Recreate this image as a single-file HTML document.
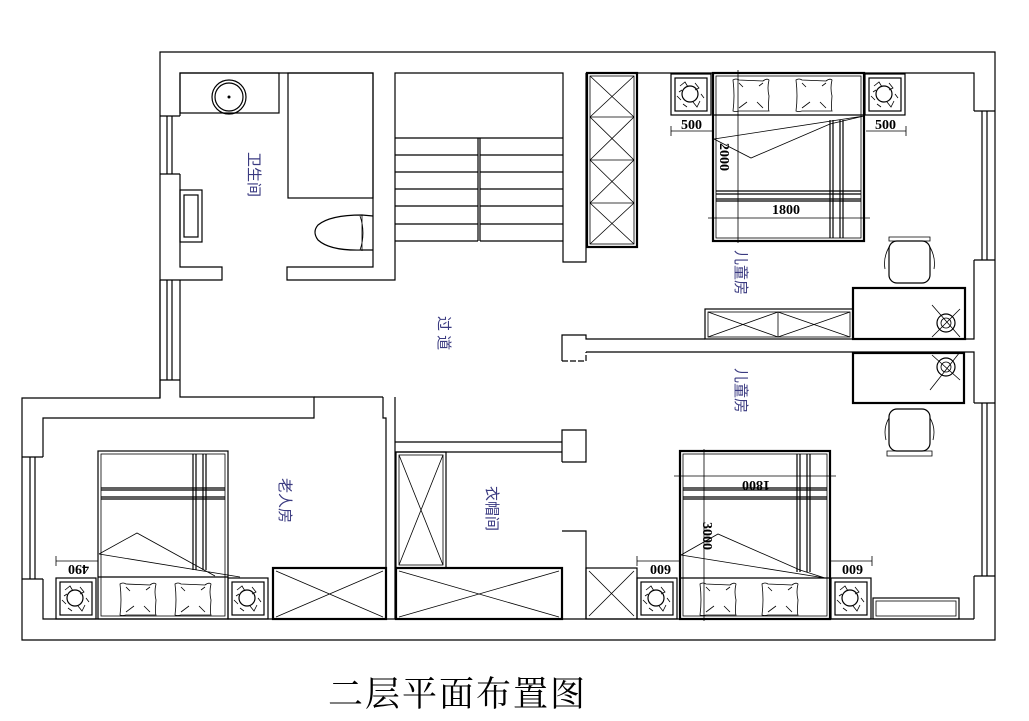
<!DOCTYPE html>
<html><head><meta charset="utf-8"><style>
html,body{margin:0;padding:0;background:#fff;width:1029px;height:721px;overflow:hidden}
svg{display:block}
.l{fill:none;stroke:#000;stroke-width:1.2}
.t{stroke:#000;stroke-width:2.2;fill:none}
.th{stroke:#000;stroke-width:0.8;fill:none}
.lab{font-family:"Liberation Sans","Noto Sans CJK SC",sans-serif;font-size:15px;fill:#3a3a80}
.dim{font-family:"Liberation Serif",serif;font-size:14px;font-weight:bold;fill:#000}
</style></head><body>
<svg width="1029" height="721" viewBox="0 0 1029 721" xmlns="http://www.w3.org/2000/svg">
<defs>
<g id="ns">
 <rect x="0" y="0" width="40" height="41" class="l"/>
 <rect x="4" y="4" width="32" height="33" class="l"/>
 <circle cx="19" cy="20" r="8" class="l"/>
 <path d="M9 12 L14 8 L17 13 M24 9 L28 14 L24 16 M10 26 L6 22 M22 28 L26 33 L29 27 M12 30 L16 33 M30 20 L33 24 M8 18 L11 16" class="th"/>
</g>
<g id="pil">
 <path d="M0 2 Q3 0 6 2 L30 3 Q34 0 36 2 Q34 10 36 18 Q35 31 36 33 L6 33 Q2 34 0 33 Q2 18 0 2Z" class="th"/>
 <path d="M6 30 L14 24 M30 30 L24 24 M6 5 L10 9 M30 5 L26 8" class="th"/>
</g>
</defs>

<path d="M160 52 H995 V640 H22 V398 H160 Z" class="l"/>
<path d="M160 116 H180 M160 174 H180 M167 116 V174 M172 116 V174" class="l"/>
<path d="M160 280 V380 M167 280 V380 M172 280 V380 M180 280 V380 M160 380 H180" class="l"/>
<path d="M180 174 V267 H222 V280 H160" class="l"/>
<path d="M180 116 V73 H373 V267 H287 V280 H395 V73 H563 V262 H586 V73" class="l"/>
<rect x="180" y="73" width="99" height="40" class="l"/>
<circle cx="229" cy="97" r="17" class="l" stroke-width="2"/>
<circle cx="229" cy="97" r="14" class="l"/>
<circle cx="229" cy="97" r="1.5" fill="#000"/>
<rect x="288" y="73" width="85" height="125" class="l"/>
<rect x="180" y="190" width="22" height="52" class="l"/>
<rect x="184" y="195" width="14" height="42" class="l"/>
<path d="M373 216 L362 215 Q330 215 318 225 Q312 232 318 240 Q330 251 362 250 L373 250" class="l"/>
<path d="M362 215 V251 M360 216 Q366 233 360 250" class="th"/>
<path d="M395 138 H563 M395 155 H478 M480 155 H563 M395 172 H478 M480 172 H563 M395 189 H478 M480 189 H563 M395 206 H478 M480 206 H563 M395 224 H478 M480 224 H563 M395 241 H478 M480 241 H563 M478 138 V241 M480 138 V241" class="l"/>
<rect x="587" y="73" width="50" height="174" class="t"/>
<rect x="590" y="76" width="44" height="168" class="th"/>
<path d="M590 117 H634 M590 160 H634 M590 203 H634 M590 76 L634 117 M634 76 L590 117 M590 117 L634 160 M634 117 L590 160 M590 160 L634 203 M634 160 L590 203 M590 203 L634 244 M634 203 L590 244" class="th"/>

<path d="M637 73 H974 V111 M974 260 V339 H853 M974 111 H995 M974 260 H995 M982 111 V260 M987 111 V260" class="l"/>
<path d="M562 361 V335 H586 V339 H705" class="l"/>
<path d="M562 361 H586 V352" class="l" stroke-dasharray="6 2"/>
<path d="M586 352 H974 V403" class="l"/>
<path d="M974 403 H995 M974 576 H995 M982 403 V576 M987 403 V576 M974 576 V619" class="l"/>
<rect x="713" y="73" width="151" height="168" class="t" stroke-width="1.6"/>
<rect x="716" y="76" width="145" height="162" class="th"/>
<path d="M713 115 H864" class="l"/>
<path d="M716 191 H861 M716 194 H861 M716 199 H861 M716 201 H861 M830 120 V238 M833 120 V238 M840 120 V238 M843 120 V238" class="l"/>
<path d="M738 70 V243 M708 218 H870" class="th"/>
<path d="M714 139 L864 116 M714 139 L751 158 L830 124 L864 116" class="th"/>
<use href="#pil" x="733" y="78"/><use href="#pil" x="796" y="78"/>
<use href="#ns" x="671" y="74"/><use href="#ns" x="865" y="74"/>
<path d="M671 131 H713 M866 131 H906 M671 126 V136 M906 126 V136" class="th"/>
<text class="dim" x="681" y="129">500</text><text class="dim" x="875" y="129">500</text>
<text class="dim" transform="translate(720,143) rotate(90)">2000</text>
<text class="dim" x="772" y="214">1800</text>
<path d="M889 237 H930 V241 H889 Z" class="th"/>
<rect x="889" y="241" width="41" height="42" rx="8" class="l"/>
<path d="M889 247 Q883 258 885 269 M930 247 Q936 258 934 269" class="th"/>
<rect x="853" y="288" width="112" height="51" class="t"/>
<circle cx="946" cy="323" r="9" class="l"/><circle cx="946" cy="323" r="5" class="th"/>
<path d="M932 305 L960 337 M960 309 L932 337" class="th"/>
<rect x="705" y="309" width="148" height="30" class="l"/>
<rect x="708" y="312" width="142" height="25" class="th"/>
<path d="M778 312 V337 M708 312 L778 337 M778 312 L708 337 M778 312 L850 337 M850 312 L778 337" class="th"/>

<rect x="853" y="353" width="111" height="50" class="t"/>
<circle cx="946" cy="367" r="9" class="l"/><circle cx="946" cy="367" r="5" class="th"/>
<path d="M932 355 L960 380 M960 352 L930 390" class="th"/>
<rect x="889" y="409" width="41" height="42" rx="8" class="l"/>
<path d="M887 451 H932 V456 H887 Z M889 418 Q883 428 886 440 M930 418 Q936 428 933 440" class="th"/>
<rect x="680" y="451" width="150" height="168" class="t" stroke-width="1.6"/>
<rect x="683" y="454" width="144" height="162" class="th"/>
<path d="M680 578 H830" class="l"/>
<path d="M683 488 H827 M683 490 H827 M683 497 H827 M683 499 H827 M797 454 V572 M800 454 V572 M807 454 V572 M810 454 V572" class="l"/>
<path d="M704 449 V621 M674 476 H836" class="th"/>
<path d="M681 555 L825 578 M681 555 L718 534 L800 570 L825 578" class="th"/>
<use href="#pil" x="700" y="582"/><use href="#pil" x="762" y="582"/>
<use href="#ns" x="637" y="578"/><use href="#ns" x="831" y="578"/>
<path d="M637 561 H680 M830 561 H872 M637 556 V566 M872 556 V566" class="th"/>
<text class="dim" transform="translate(671,565) rotate(180)">600</text>
<text class="dim" transform="translate(863,565) rotate(180)">600</text>
<text class="dim" transform="translate(770,481) rotate(180)">1800</text>
<text class="dim" transform="translate(703,522) rotate(90)">3000</text>
<rect x="873" y="598" width="86" height="21" class="l"/><rect x="876" y="601" width="80" height="15" class="th"/>

<path d="M562 462 V430 H586 V462 H562" class="l"/>
<path d="M395 442 H562 M395 452 H562 M562 531 H586 V619" class="l"/>
<path d="M314 397 H383 M383 397 V418 H386 V619 M395 442 V619" class="l"/>
<path d="M395 397 V442" class="l"/>
<rect x="396" y="452" width="50" height="116" class="l"/>
<rect x="399" y="455" width="44" height="110" class="th"/>
<path d="M399 455 L443 565 M443 455 L399 565" class="th"/>
<rect x="396" y="568" width="166" height="51" class="t"/>
<path d="M399 571 L559 617 M559 571 L399 617" class="th"/>
<rect x="586" y="568" width="51" height="51" class="l"/>
<path d="M589 571 L634 616 M634 571 L589 616" class="th"/>

<path d="M160 398 V380 M180 380 V397 H314 V418 H43 V457 M43 579 V619 H974" class="l"/>
<path d="M22 457 H43 M22 579 H43 M30 457 V579 M35 457 V579" class="l"/>
<rect x="98" y="451" width="130" height="168" class="l" stroke-width="1.6"/>
<rect x="101" y="454" width="124" height="162" class="th"/>
<path d="M98 577 H228" class="l"/>
<path d="M101 488 H225 M101 490 H225 M101 497 H225 M101 499 H225 M193 454 V570 M196 454 V570 M203 454 V570 M206 454 V570" class="l"/>
<path d="M99 554 L240 577 M99 554 L137 533 L215 576" class="th"/>
<use href="#pil" x="120" y="582"/><use href="#pil" x="175" y="582"/>
<use href="#ns" x="56" y="578"/><use href="#ns" x="228" y="578"/>
<path d="M56 561 H98 M56 556 V566" class="th"/>
<text class="dim" transform="translate(89,565) rotate(180)">490</text>
<rect x="273" y="568" width="113" height="51" class="t"/>
<path d="M276 571 L383 617 M383 571 L276 617" class="th"/>

<text class="lab" transform="translate(249,152) rotate(90)">卫生间</text>
<text class="lab" transform="translate(439,316) rotate(90)">过 道</text>
<text class="lab" transform="translate(736,250) rotate(90)">儿童房</text>
<text class="lab" transform="translate(736,368) rotate(90)">儿童房</text>
<text class="lab" transform="translate(280,478) rotate(90)">老人房</text>
<text class="lab" transform="translate(487,486) rotate(90)">衣帽间</text>
<text x="328" y="706" font-family="'Liberation Serif','Noto Serif CJK SC',serif" font-size="35" letter-spacing="2" fill="#000">二层平面布置图</text>
</svg>
</body></html>
